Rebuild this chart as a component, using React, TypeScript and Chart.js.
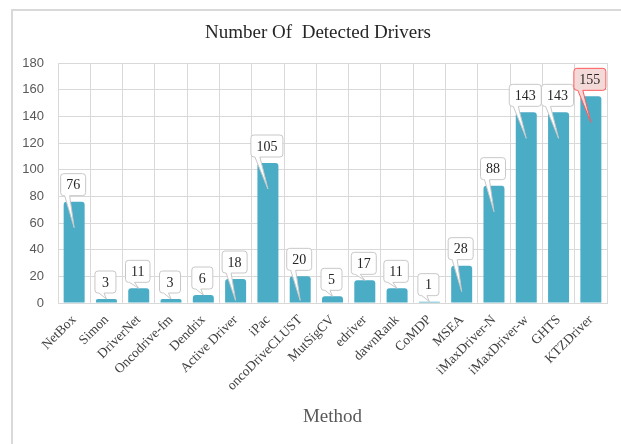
import React, { useEffect, useRef } from "react";
import { Chart, registerables } from "chart.js";

Chart.register(...registerables);

const categories = [
  "NetBox", "Simon", "DriverNet", "Oncodrive-fm", "Dendrix", "Active Driver", "iPac",
  "oncoDriveCLUST", "MutSigCV", "edriver", "dawnRank", "CoMDP", "MSEA",
  "iMaxDriver-N", "iMaxDriver-w", "GHTS", "KTZDriver",
];
const detected = [76, 3, 11, 3, 6, 18, 105, 20, 5, 17, 11, 1, 28, 88, 143, 143, 155];
const yTicks = [0, 20, 40, 60, 80, 100, 120, 140, 160, 180];
const chartTitle = "Number Of  Detected Drivers";
const highlightIndex = 16;

const W = 621;
const H = 444;
const SERIF = '"Liberation Serif", "Times New Roman", serif';
const SANS = '"Liberation Sans", Arial, sans-serif';

const framePlugin = {
  id: "frame",
  beforeDraw(chart: any) {
    const ctx = chart.ctx;
    ctx.save();
    ctx.fillStyle = "#ffffff";
    ctx.fillRect(0, 0, chart.width, chart.height);
    ctx.strokeStyle = "#d9d9d9";
    ctx.lineWidth = 2;
    ctx.beginPath();
    ctx.moveTo(12, H);
    ctx.lineTo(12, 10);
    ctx.lineTo(W, 10);
    ctx.stroke();
    ctx.fillStyle = "#262626";
    ctx.font = `19px ${SERIF}`;
    ctx.textAlign = "center";
    ctx.textBaseline = "middle";
    ctx.fillText(chartTitle, 318, 33);
    ctx.restore();
  },
};

const calloutPlugin = {
  id: "callouts",
  afterDatasetsDraw(chart: any) {
    const ctx = chart.ctx;
    const meta = chart.getDatasetMeta(0);
    ctx.save();
    ctx.font = `14px ${SERIF}`;
    meta.data.forEach((el: any, i: number) => {
      const v = detected[i];
      const text = String(v);
      const tw = ctx.measureText(text).width;
      const boxW = Math.max(tw + 11, 21);
      const boxH = 22;
      const x = el.x;
      const boxBottom = el.y - 6;
      const boxTop = boxBottom - boxH;
      const left = x - boxW / 2 - 1;
      const right = left + boxW;
      const r = 3;
      const tipY = v >= 18 ? Math.min(boxBottom + 32, el.base - 2) : boxBottom + 6;
      const tlx = left + 4;
      const trx = left + 9;
      const hi = i === highlightIndex;
      ctx.beginPath();
      ctx.moveTo(left + r, boxTop);
      ctx.lineTo(right - r, boxTop);
      ctx.quadraticCurveTo(right, boxTop, right, boxTop + r);
      ctx.lineTo(right, boxBottom - r);
      ctx.quadraticCurveTo(right, boxBottom, right - r, boxBottom);
      ctx.lineTo(trx, boxBottom);
      ctx.lineTo(x, tipY);
      ctx.lineTo(tlx, boxBottom);
      ctx.lineTo(left + r, boxBottom);
      ctx.quadraticCurveTo(left, boxBottom, left, boxBottom - r);
      ctx.lineTo(left, boxTop + r);
      ctx.quadraticCurveTo(left, boxTop, left + r, boxTop);
      ctx.closePath();
      ctx.fillStyle = hi ? "#f4d9d9" : "#ffffff";
      ctx.fill();
      ctx.lineWidth = 1;
      ctx.strokeStyle = hi ? "#ff5a5a" : "#c8c8c8";
      ctx.stroke();
      ctx.fillStyle = "#262626";
      ctx.textAlign = "center";
      ctx.textBaseline = "middle";
      ctx.fillText(text, (left + right) / 2, (boxTop + boxBottom) / 2 + 1);
    });
    ctx.restore();
  },
};

export default function App() {
  const ref = useRef<HTMLCanvasElement | null>(null);
  useEffect(() => {
    if (!ref.current) return;
    const chart = new Chart(ref.current, {
      type: "bar",
      data: {
        labels: categories,
        datasets: [
          {
            data: detected,
            backgroundColor: "#4bacc6",
            barPercentage: 0.65,
            categoryPercentage: 1,
            borderRadius: { topLeft: 3, topRight: 3, bottomLeft: 0, bottomRight: 0 },
            borderSkipped: false,
          },
        ],
      },
      options: {
        responsive: false,
        animation: false,
        devicePixelRatio: 1,
        layout: { padding: { left: 0, right: 14, top: 63, bottom: 0 } },
        plugins: {
          legend: { display: false },
          tooltip: { enabled: false },
          title: { display: false },
        },
        scales: {
          x: {
            grid: { color: "#d9d9d9", drawTicks: false, offset: true },
            border: { color: "#d9d9d9" },
            ticks: {
              autoSkip: false,
              minRotation: 45,
              maxRotation: 45,
              padding: 9,
              color: "#404040",
              font: { family: SERIF, size: 13.5 },
            },
            title: {
              display: true,
              text: "Method",
              color: "#595959",
              font: { family: SERIF, size: 19 },
              padding: { top: 0, bottom: 16 },
            },
            afterFit(scale: any) {
              scale.height = H - 303;
            },
          },
          y: {
            min: 0,
            max: 180,
            afterBuildTicks(scale: any) {
              scale.ticks = yTicks.map((v) => ({ value: v }));
            },
            grid: { color: "#d9d9d9", drawTicks: false },
            border: { color: "#d9d9d9" },
            ticks: {
              padding: 14,
              color: "#595959",
              font: { family: SANS, size: 13 },
            },
            afterFit(scale: any) {
              scale.width = 58;
            },
          },
        },
      },
      plugins: [framePlugin, calloutPlugin],
    });
    return () => chart.destroy();
  }, []);
  return (
    <div style={{ position: "fixed", left: 0, top: 0, width: W, height: H }}>
      <canvas ref={ref} width={W} height={H} style={{ display: "block", width: W, height: H }} />
    </div>
  );
}
